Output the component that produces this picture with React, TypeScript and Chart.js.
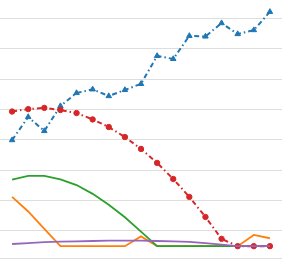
import React, { useEffect, useRef } from "react";
import { Chart, registerables } from "chart.js";

Chart.register(...registerables);

const steps = [0, 1, 2, 3, 4, 5, 6, 7, 8, 9, 10, 11, 12, 13, 14, 15, 16];
const blueSeries = [39.9, 47.5, 42.9, 51.1, 55.4, 56.6, 54.4, 56.4, 58.4, 67.6, 66.6, 74.2, 74.0, 78.4, 74.8, 76.1, 82.1];
const redSeries = [49.3, 50.1, 50.5, 49.8, 48.8, 46.7, 44.2, 40.9, 37.0, 32.4, 27.1, 21.2, 14.6, 7.4, 5.0, 5.0, 5.0];
const greenSeries = [26.9, 28.1, 28.1, 27.0, 25.1, 22.2, 18.6, 14.5, 9.8, 5.0, 5.0, 5.0, 5.0, 5.0, 5.0, 5.0, 5.0];
const orangeSeries = [21.2, 16.4, 10.7, 5.0, 5.0, 5.0, 5.0, 5.0, 8.2, 5.0, 5.0, 5.0, 5.0, 5.0, 5.0, 8.7, 7.6];
const purpleSeries = [5.7, 6.0, 6.3, 6.5, 6.6, 6.7, 6.8, 6.8, 6.8, 6.7, 6.6, 6.4, 6.0, 5.5, 5.0, 5.0, 5.0];
const gridValues = [10, 20, 30, 40, 50, 60, 70, 80];
const yMin = 1.1;
const yMax = 86.0;
const xMin = -0.75;
const xMax = 16.75;

const pts = (vals: number[]) => steps.map((x, i) => ({ x, y: vals[i] }));

export default function App() {
  const ref = useRef<HTMLCanvasElement | null>(null);
  useEffect(() => {
    if (!ref.current) return;
    const chart = new Chart(ref.current, {
      type: "line",
      data: {
        datasets: [
          {
            data: pts(blueSeries),
            borderColor: "#1f77b4",
            backgroundColor: "#1f77b4",
            borderWidth: 2,
            borderDash: [5, 3, 1.5, 3],
            pointStyle: "triangle",
            pointRadius: 3.2,
            pointBorderWidth: 1,
            order: 4,
          },
          {
            data: pts(orangeSeries),
            borderColor: "#ff7f0e",
            backgroundColor: "#ff7f0e",
            borderWidth: 1.8,
            pointRadius: 0,
            order: 3,
          },
          {
            data: pts(greenSeries),
            borderColor: "#2ca02c",
            backgroundColor: "#2ca02c",
            borderWidth: 1.8,
            pointRadius: 0,
            order: 2,
          },
          {
            data: pts(redSeries),
            borderColor: "#d62728",
            backgroundColor: "#d62728",
            borderWidth: 2,
            borderDash: [5, 3, 1.5, 3],
            pointStyle: "circle",
            pointRadius: 2.7,
            pointBorderWidth: 1,
            order: 1,
          },
          {
            data: pts(purpleSeries),
            borderColor: "#9467bd",
            backgroundColor: "#9467bd",
            borderWidth: 1.8,
            pointRadius: 0,
            order: 0,
          },
        ],
      },
      options: {
        responsive: false,
        animation: false,
        layout: { autoPadding: false, padding: { left: 0, top: 0, right: 2, bottom: 3 } },
        plugins: { legend: { display: false }, tooltip: { enabled: false } },
        elements: { line: { tension: 0 } },
        scales: {
          x: { type: "linear", min: xMin, max: xMax, display: false },
          y: {
            type: "linear",
            min: yMin,
            max: yMax,
            display: true,
            border: { display: false },
            grid: { color: "#dedede", lineWidth: 1, drawTicks: false },
            ticks: { display: false },
            afterBuildTicks: (scale: any) => {
              scale.ticks = [yMin, ...gridValues].map((v) => ({ value: v }));
            },
          },
        },
      },
    });
    return () => chart.destroy();
  }, []);
  return (
    <canvas
      ref={ref}
      width={284}
      height={261}
      style={{ position: "absolute", left: 0, top: 0, display: "block" }}
    />
  );
}
